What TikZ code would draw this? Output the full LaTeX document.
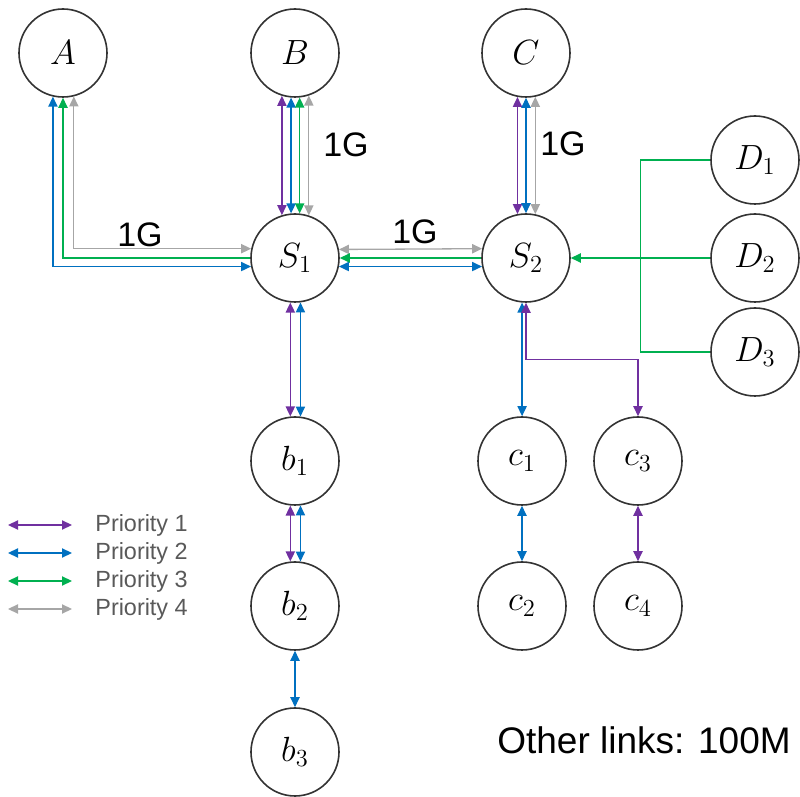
\documentclass[tikz,border=0pt]{standalone}
\usepackage{fix-cm}
\usepackage{fontspec}
\setsansfont{Liberation Sans}
\usetikzlibrary{arrows.meta,calc}
\definecolor{pone}{HTML}{7030A0}
\definecolor{ptwo}{HTML}{0070C0}
\definecolor{pthree}{HTML}{00B050}
\definecolor{pfour}{HTML}{A6A6A6}
\definecolor{legtext}{HTML}{595959}
\begin{document}
\begin{tikzpicture}[x=0.5pt,y=-0.5pt,
  nd/.style={circle,draw=black!80,line width=0.8pt,minimum size=44pt,inner sep=0pt,font=\fontsize{17.5}{20}\selectfont},
  lk/.style={line width=0.65pt,>={Triangle[length=5pt,width=4.6pt]}},
  lone/.style={lk,draw=pone},
  ltwo/.style={lk,draw=ptwo},
  lthree/.style={lk,draw=pthree},
  lfour/.style={lk,draw=pfour},
  bw/.style={font=\sffamily\fontsize{17}{20}\selectfont},
  leg/.style={font=\sffamily\fontsize{11.7}{14}\selectfont,text=legtext,anchor=west,inner sep=0pt}
]
\useasboundingbox (0,0) rectangle (800,797);
% nodes
\node[nd] (A) at (63,53) {$A$};
\node[nd] (B) at (295,53) {$B$};
\node[nd] (C) at (526,53) {$C$};
\node[nd] (S1) at (295,258) {$S_1$};
\node[nd] (S2) at (526,258) {$S_2$};
\node[nd] (D1) at (755,160) {$D_1$};
\node[nd] (D2) at (755,258) {$D_2$};
\node[nd] (D3) at (755,352) {$D_3$};
\node[nd] (b1) at (295,461) {$b_1$};
\node[nd] (b2) at (295,606) {$b_2$};
\node[nd] (b3) at (295,752) {$b_3$};
\node[nd] (c1) at (522,461) {$c_1$};
\node[nd] (c2) at (522,606) {$c_2$};
\node[nd] (c3) at (638,461) {$c_3$};
\node[nd] (c4) at (638,606) {$c_4$};
% A - S1
\draw[ltwo,<->] (A.-103.1) |- (S1.191.8);
\draw[lthree,<-] (A.south) |- (S1.west);
\draw[lfour,<->] (A.-76.9) |- (S1.168.2);
% B - S1
\draw[lone,<->] (B.-107.87) -- (S1.107.87);
\draw[ltwo,<->] (B.-95.87) -- (S1.95.87);
\draw[lthree,<->] (B.-84.13) -- (S1.84.13);
\draw[lfour,<->] (B.-72.13) -- (S1.72.13);
% S1 - S2
\draw[lfour,<->] (S1.11.8) -- (S2.168.2);
\draw[lthree,<-] (S1.east) -- (S2.west);
\draw[ltwo,<->] (S1.-11.8) -- (S2.191.8);
% C - S2
\draw[lone,<->] (C.-101.8) -- (S2.101.8);
\draw[ltwo,<->] (C.south) -- (S2.north);
\draw[lfour,<->] (C.-78.2) -- (S2.78.2);
% D - S2
\coordinate (dj) at ($(D2.west)+(-70,0)$);
\draw[lthree] (D1.west) -| (dj) |- (D3.west);
\draw[lthree,->] (D2.west) -- (S2.east);
% S2 - c
\draw[ltwo,<->] (S2.-95.87) -- (S2.-95.87 |- c1.north);
\coordinate (cj) at ($(c3.north)+(0,-57)$);
\draw[lone,<->] (S2.south) |- (cj) -- (c3.north);
\draw[ltwo,<->] (c1.south) -- (c2.north);
\draw[lone,<->] (c3.south) -- (c4.north);
% S1 - b
\draw[lone,<->] (S1.-96.52) -- (b1.96.52);
\draw[ltwo,<->] (S1.-83.48) -- (b1.83.48);
\draw[lone,<->] (b1.-96.52) -- (b2.96.52);
\draw[ltwo,<->] (b1.-83.48) -- (b2.83.48);
\draw[ltwo,<->] (b2.south) -- (b3.north);
% labels
\node[bw] (g1) at (140,235) {1G};
\node[bw] (g2) at (346,145) {1G};
\node[bw] (g3) at (415,232) {1G};
\node[bw] (g4) at (563,144) {1G};
\node[font=\sffamily\fontsize{18.5}{22}\selectfont] (ol) at (644,740) {Other links: 100M};
% legend
\foreach \i/\y/\s in {1/525/lone,2/553/ltwo,3/581/lthree,4/609/lfour}{
  \coordinate (la\i) at (8,\y);
  \coordinate (lb\i) at (72,\y);
  \draw[\s,<->] (la\i) -- (lb\i);
  \node[leg] (lt\i) at (95,\y) {Priority \i};
}
\end{tikzpicture}
\end{document}
